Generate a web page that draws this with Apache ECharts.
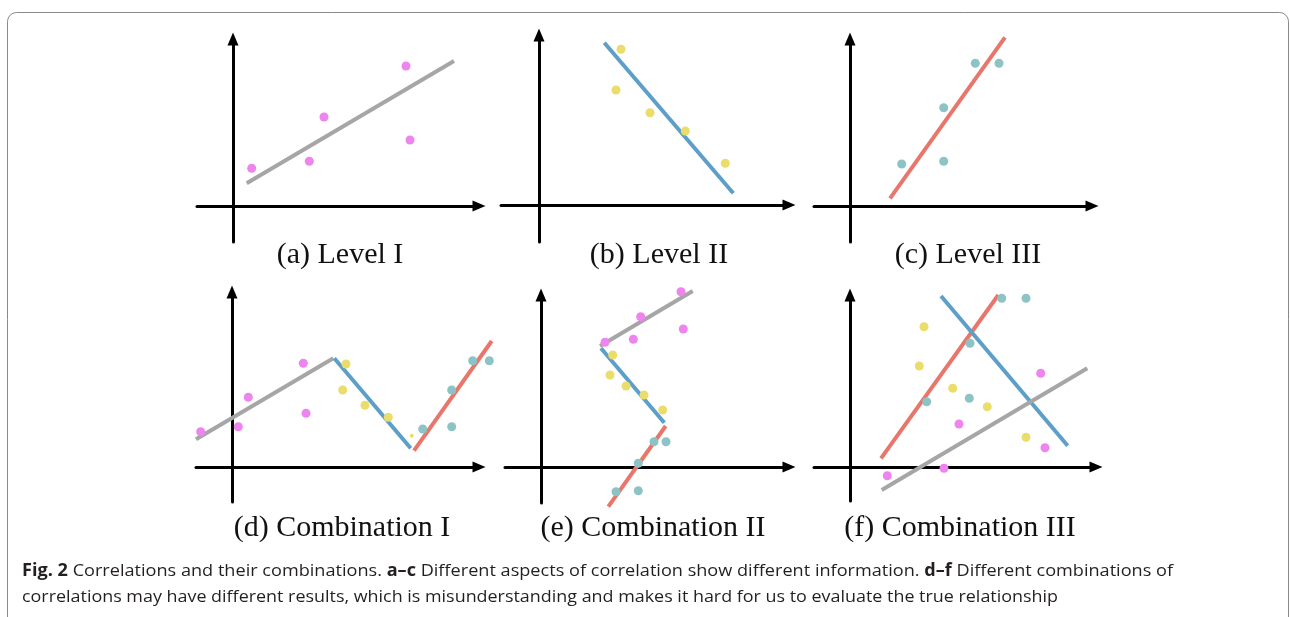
<!DOCTYPE html>
<html><head><meta charset="utf-8">
<script src="https://cdn.jsdelivr.net/npm/echarts@6/dist/echarts.min.js"></script>
<style>html,body{margin:0;padding:0;background:#fff}#c{width:1290px;height:617px}</style>
</head><body><div id="c"></div><script>
// ---------- data ----------
const panelTitles = ['(a) Level I', '(b) Level II', '(c) Level III',
                     '(d) Combination I', '(e) Combination II', '(f) Combination III'];

const aPink   = [[1.87,3.77],[7.63,4.47],[9.1,8.9],[17.3,14.0],[17.7,6.6]];
const aGrayFit = [[1.37,2.27],[22.1,14.5]];

const bYellow = [[8.2,15.57],[7.7,11.5],[11.1,9.23],[14.63,7.4],[18.63,4.17]];
const bBlueFit = [[6.53,16.23],[19.43,1.17]];

const cTeal = [[5.17,4.2],[9.37,9.83],[9.37,4.47],[12.53,14.27],[14.9,14.27]];
const cRedFit = [[4.0,0.77],[15.5,16.87]];

const dPink = [[-3.13,3.53],[0.63,4.03],[1.63,6.97],[7.13,10.37],[7.4,5.37]];
const dYellow = [[11.4,10.3],[11.07,7.7],[13.3,6.17],[15.63,4.97]];
const dYellowSmall = [[17.97,3.13]];
const dTeal = [[19.07,3.8],[21.97,7.7],[21.97,4.03],[24.07,10.63],[25.73,10.63]];
const dGrayFit = [[-3.6,2.77],[10.13,10.87]];
const dBlueFit = [[10.23,10.87],[17.87,1.87]];
const dRedFit = [[18.2,1.63],[25.97,12.6]];

const ePink = [[14.0,17.53],[9.97,15.03],[14.23,13.8],[9.23,12.77],[6.4,12.47]];
const eYellow = [[7.17,11.2],[6.9,9.2],[8.5,8.1],[10.3,7.2],[12.17,5.7]];
const eTeal = [[11.3,2.53],[12.5,2.53],[9.73,0.37],[7.5,-2.47],[9.73,-2.37]];
const eGrayFit = [[5.9,12.1],[15.17,17.6]];
const eBlueFit = [[6.0,11.87],[12.33,4.43]];
const eRedFit = [[12.47,4.1],[6.73,-3.97]];

const fTeal = [[15.17,16.87],[17.6,16.87],[12.0,12.37],[11.93,6.87],[7.67,6.53]];
const fYellow = [[7.4,14.03],[6.93,10.1],[10.27,7.87],[13.73,6.03],[17.6,2.97]];
const fPink = [[19.07,9.37],[10.9,4.3],[19.5,1.93],[3.73,-0.87],[9.4,-0.13]];
const fRedFit = [[3.1,0.87],[14.83,17.2]];
const fBlueFit = [[9.1,17.1],[21.77,2.13]];
const fGrayFit = [[3.17,-2.3],[23.73,9.87]];

// axis extents of each panel (data units)
const xExtents = [[-3.6,24.6],[-3.8,25.0],[-3.6,24.2],[-3.6,24.7],[-3.6,24.8],[-3.6,24.6]];
const yExtents = [[-3.6,16.7],[-3.7,17.0],[-3.6,16.7],[-3.5,17.5],[-3.6,17.2],[-3.4,17.2]];

// ---------- styling / layout ----------
const COL = {pink:'#ee84ee', yellow:'#ebdd6c', teal:'#8cc4c6', gray:'#a6a6a6', blue:'#5d9fc9', red:'#e8766b'};
const origins = [[233,206],[539,205],[850,206],[232,467],[541,467],[850,467]];
const PX = 10; // pixels per data unit
const titlePos = [[340,255],[659,255],[968,255],[342,528],[653,528],[960,528]];

const panels = [
  {scatter:[[aPink,COL.pink]], fits:[[aGrayFit,COL.gray]]},
  {scatter:[[bYellow,COL.yellow]], fits:[[bBlueFit,COL.blue]]},
  {scatter:[[cTeal,COL.teal]], fits:[[cRedFit,COL.red]]},
  {scatter:[[dPink,COL.pink],[dYellow,COL.yellow],[dTeal,COL.teal],[dYellowSmall,COL.yellow,4]],
   fits:[[dGrayFit,COL.gray],[dBlueFit,COL.blue],[dRedFit,COL.red]]},
  {scatter:[[ePink,COL.pink],[eYellow,COL.yellow],[eTeal,COL.teal]],
   fits:[[eGrayFit,COL.gray],[eBlueFit,COL.blue],[eRedFit,COL.red]]},
  {scatter:[[fTeal,COL.teal],[fYellow,COL.yellow],[fPink,COL.pink]],
   fits:[[fRedFit,COL.red],[fBlueFit,COL.blue],[fGrayFit,COL.gray]]}
];

const grid = [], xAxis = [], yAxis = [], series = [];
const axisLine = {show:true, onZero:true, symbol:['none','triangle'], symbolSize:[11,13],
                  lineStyle:{color:'#000', width:3}};
panels.forEach((p, i) => {
  const [ox, oy] = origins[i];
  const [x0, x1] = xExtents[i], [y0, y1] = yExtents[i];
  grid.push({left: ox + x0*PX, top: oy - y1*PX, width: (x1-x0)*PX, height: (y1-y0)*PX,
             containLabel:false, outerBoundsMode:'none'});
  const common = {type:'value', gridIndex:i, axisLine, axisTick:{show:false},
                  axisLabel:{show:false}, splitLine:{show:false}};
  xAxis.push(Object.assign({min:x0, max:x1}, common));
  yAxis.push(Object.assign({min:y0, max:y1}, common));
  p.fits.forEach(([d, c]) => series.push({type:'custom', xAxisIndex:i, yAxisIndex:i,
      data:[[d[0][0], d[0][1], d[1][0], d[1][1]]], encode:{x:[0,2], y:[1,3]},
      clip:false, silent:true, z:3,
      renderItem:(params, api) => {
        const a = api.coord([api.value(0), api.value(1)]);
        const b = api.coord([api.value(2), api.value(3)]);
        return {type:'line', shape:{x1:a[0], y1:a[1], x2:b[0], y2:b[1]},
                style:{stroke:c, lineWidth:4, lineCap:'butt'}};
      }}));
  p.scatter.forEach(([d, c, s]) => series.push({type:'scatter', xAxisIndex:i, yAxisIndex:i, data:d,
      symbolSize:s || 9, clip:false, silent:true, z:4, itemStyle:{color:c, opacity:1}}));
});

// caption sizing: squeeze to the reference line widths
const capFont = '"Open Sans", "Noto Sans", sans-serif';
const capSize = 17;
const line1 = [['Fig. 2',1],[' Correlations and their combinations. ',0],['a–c',1],
  [' Different aspects of correlation show different information. ',0],['d–f',1],[' Different combinations of',0]];
const line2 = [['correlations may have different results, which is misunderstanding and makes it hard for us to evaluate the true relationship',0]];
const cv = document.createElement('canvas').getContext('2d');
function w(parts){return parts.reduce((s,[t,b])=>{cv.font=(b?'bold ':'')+capSize+'px '+capFont;return s+cv.measureText(t).width;},0);}
const sc1 = 1151 / w(line1);
const sc2 = 1036 / w(line2);
function rich(parts){return parts.map(([t,b])=>'{'+(b?'b':'n')+'|'+t+'}').join('');}
const richStyle = {n:{fontFamily:capFont, fontSize:capSize, fill:'#231f20'},
                   b:{fontFamily:capFont, fontSize:capSize, fontWeight:'bold', fill:'#231f20'}};

const graphic = [
  {type:'rect', shape:{x:7.5, y:12.5, width:1281, height:700, r:9}, style:{fill:'none', stroke:'#8a8a8a', lineWidth:1}, silent:true, z:0},
  {type:'text', x:22, y:571, scaleX:sc1, style:{text:rich(line1), rich:richStyle, verticalAlign:'middle', textVerticalAlign:'middle'}, z:10},
  {type:'text', x:22, y:597, scaleX:sc2, style:{text:rich(line2), rich:richStyle, verticalAlign:'middle', textVerticalAlign:'middle'}, z:10}
];
panelTitles.forEach((t, i) => graphic.push({type:'text', x:titlePos[i][0], y:titlePos[i][1],
  style:{text:t, font:'30px "Liberation Serif", "DejaVu Serif", serif', fill:'#111',
         align:'center', verticalAlign:'middle', textAlign:'center', textVerticalAlign:'middle'}, z:10}));

const chart = echarts.init(document.getElementById('c'), null, {renderer:'canvas'});
chart.setOption({animation:false, grid, xAxis, yAxis, series, graphic});
</script></body></html>
